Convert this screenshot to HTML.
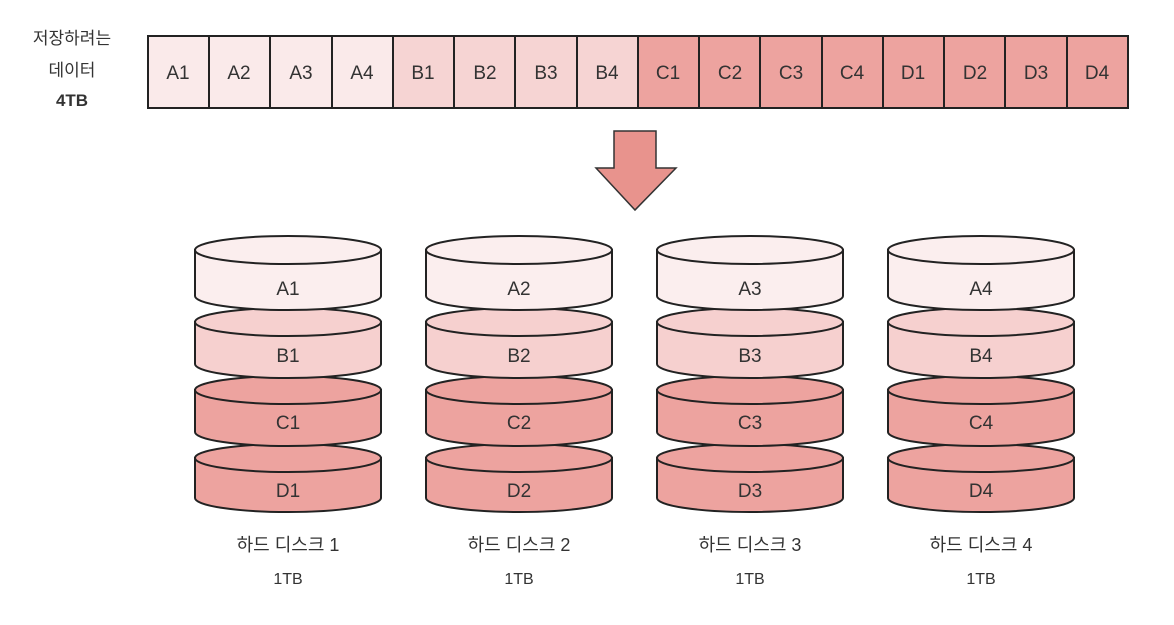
<!DOCTYPE html>
<html><head><meta charset="utf-8"><style>
body{margin:0;background:#fff;width:1174px;height:620px;overflow:hidden}
svg text{font-family:"Liberation Sans","Noto Sans CJK KR",sans-serif;fill:#333}
</style></head><body>
<svg width="1174" height="620" viewBox="0 0 1174 620" xmlns="http://www.w3.org/2000/svg">
<g font-size="17" text-anchor="middle">
<text x="72" y="44">저장하려는</text>
<text x="72" y="76">데이터</text>
<text x="72" y="106" font-weight="bold">4TB</text>
</g>
<g stroke="#222" stroke-width="2" font-size="19" text-anchor="middle">
<rect x="148" y="36" width="245" height="72" fill="#faeaea"/>
<rect x="393" y="36" width="245" height="72" fill="#f6d4d3"/>
<rect x="638" y="36" width="490" height="72" fill="#eda39f"/>
<line x1="209" y1="36" x2="209" y2="108"/><line x1="270" y1="36" x2="270" y2="108"/><line x1="332" y1="36" x2="332" y2="108"/>
<line x1="393" y1="36" x2="393" y2="108"/><line x1="454" y1="36" x2="454" y2="108"/><line x1="515" y1="36" x2="515" y2="108"/><line x1="577" y1="36" x2="577" y2="108"/>
<line x1="638" y1="36" x2="638" y2="108"/><line x1="699" y1="36" x2="699" y2="108"/><line x1="760" y1="36" x2="760" y2="108"/><line x1="822" y1="36" x2="822" y2="108"/>
<line x1="883" y1="36" x2="883" y2="108"/><line x1="944" y1="36" x2="944" y2="108"/><line x1="1005" y1="36" x2="1005" y2="108"/><line x1="1067" y1="36" x2="1067" y2="108"/>
<g stroke="none">
<text x="178" y="79">A1</text><text x="239" y="79">A2</text><text x="301" y="79">A3</text><text x="362" y="79">A4</text>
<text x="423" y="79">B1</text><text x="485" y="79">B2</text><text x="546" y="79">B3</text><text x="607" y="79">B4</text>
<text x="668" y="79">C1</text><text x="730" y="79">C2</text><text x="791" y="79">C3</text><text x="852" y="79">C4</text>
<text x="913" y="79">D1</text><text x="975" y="79">D2</text><text x="1036" y="79">D3</text><text x="1097" y="79">D4</text>
</g></g>
<polygon points="614,131 656,131 656,168 676,168 635,210 596,168 614,168" fill="#e8938d" stroke="#333" stroke-width="1.5"/>
<defs>
<g id="cyl">
<!-- D -->
<path d="M-93,458 L-93,498 A93,14 0 0 0 93,498 L93,458 Z" fill="#eda39f" stroke="#222" stroke-width="2"/>
<ellipse cx="0" cy="458" rx="93" ry="14" fill="#eda39f" stroke="#222" stroke-width="2"/>
<!-- C -->
<path d="M-93,390 L-93,432 A93,14 0 0 0 93,432 L93,390 Z" fill="#eda39f" stroke="#222" stroke-width="2"/>
<ellipse cx="0" cy="390" rx="93" ry="14" fill="#eda39f" stroke="#222" stroke-width="2"/>
<!-- B -->
<path d="M-93,322 L-93,364 A93,14 0 0 0 93,364 L93,322 Z" fill="#f6d0cf" stroke="#222" stroke-width="2"/>
<ellipse cx="0" cy="322" rx="93" ry="14" fill="#f6d0cf" stroke="#222" stroke-width="2"/>
<!-- A -->
<path d="M-93,250 L-93,296 A93,14 0 0 0 93,296 L93,250 Z" fill="#fbeeee" stroke="#222" stroke-width="2"/>
<ellipse cx="0" cy="250" rx="93" ry="14" fill="#fbeeee" stroke="#222" stroke-width="2"/>
</g>
</defs>
<g font-size="19" text-anchor="middle">
<use href="#cyl" x="288"/><use href="#cyl" x="519"/><use href="#cyl" x="750"/><use href="#cyl" x="981"/>
<text x="288" y="295">A1</text><text x="288" y="362">B1</text><text x="288" y="429">C1</text><text x="288" y="497">D1</text>
<text x="519" y="295">A2</text><text x="519" y="362">B2</text><text x="519" y="429">C2</text><text x="519" y="497">D2</text>
<text x="750" y="295">A3</text><text x="750" y="362">B3</text><text x="750" y="429">C3</text><text x="750" y="497">D3</text>
<text x="981" y="295">A4</text><text x="981" y="362">B4</text><text x="981" y="429">C4</text><text x="981" y="497">D4</text>
</g>
<g font-size="18" text-anchor="middle">
<text x="288" y="551">하드 디스크 1</text><text x="288" y="584" font-size="16">1TB</text>
<text x="519" y="551">하드 디스크 2</text><text x="519" y="584" font-size="16">1TB</text>
<text x="750" y="551">하드 디스크 3</text><text x="750" y="584" font-size="16">1TB</text>
<text x="981" y="551">하드 디스크 4</text><text x="981" y="584" font-size="16">1TB</text>
</g>
</svg>
</body></html>
